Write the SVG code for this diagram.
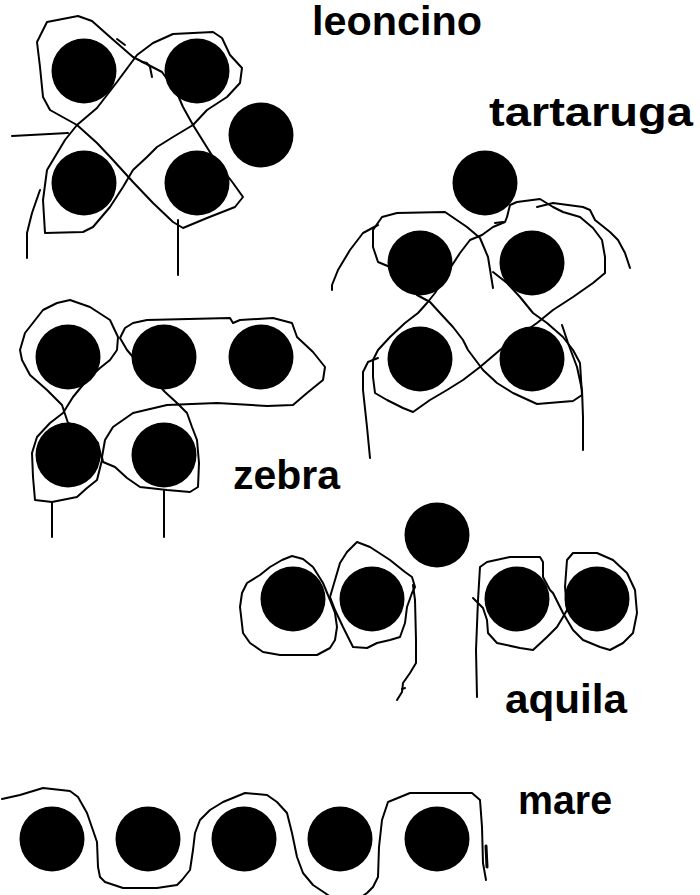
<svg xmlns="http://www.w3.org/2000/svg" width="700" height="895" viewBox="0 0 700 895">
<style>
.dot{fill:#000}
.ln{fill:none;stroke:#000;stroke-width:2;stroke-linejoin:round;stroke-linecap:round}
.lbl{font-family:"Liberation Sans",Arial,sans-serif;font-weight:bold;font-size:40px;fill:#000}
</style>
<rect width="700" height="895" fill="#fff"/>
<g id="leoncino">
  <g id="leoncino-lines">
    <polyline class="ln" points="37,42 47,22 78,16 92,21 110,37 133,57 162,72 177,93 183,107 193,125 213,157 233,183 243,197 235,207 207,218 183,228 173,222 153,203 133,182 113,160 97,143 77,125 50,110 43,97 40,67 37,42"/>
    <polyline class="ln" points="117,82 137,55 153,43 173,34 213,32 222,38 230,55 242,68 240,83 227,97 207,110 193,125 173,137 157,147 147,157 133,170 123,187 110,207 93,227 83,232 45,233 43,200 47,170 65,140 77,125 97,108 117,82"/>
    <polyline class="ln" points="12,136 68,133"/>
    <polyline class="ln" points="40,190 32,213 27,233 27,258"/>
    <polyline class="ln" points="178,220 178,275"/>
    <polyline class="ln" points="117,39 121,42 125,45"/>
    <polyline class="ln" points="142,62 147,63 150,67 152,77"/>
  </g>
  <circle class="dot" cx="84" cy="71" r="32.5"/>
  <circle class="dot" cx="197" cy="71" r="32.5"/>
  <circle class="dot" cx="84" cy="183" r="32.5"/>
  <circle class="dot" cx="197" cy="183" r="32.5"/>
  <circle class="dot" cx="261" cy="135" r="32.5"/>
  <text class="lbl" x="312" y="35" textLength="170" lengthAdjust="spacingAndGlyphs">leoncino</text>
</g>
<g id="tartaruga">
  <g id="tartaruga-lines">
    <polyline class="ln" points="493,288 488,257 480,238 467,227 445,212 397,213 382,217 373,230 373,247 378,262 390,267 417,295 430,302 440,313 453,327 463,340 468,350 483,370 497,383 513,393 537,404 573,401 582,395 580,363 573,350 563,337 547,323 533,313 520,297 507,283 493,272"/>
    <polyline class="ln" points="507,217 510,205 517,202 540,199 553,207 563,212 580,217 593,228 602,240 605,257 605,273 593,283 573,297 553,310 537,323 517,337 500,350 480,367 463,380 447,390 430,400 413,412 403,408 387,400 375,393 373,377 373,360 378,350 390,337 405,323 418,313 427,303 435,293 447,273 460,253 470,240 482,235 493,227 505,222 507,217"/>
    <polyline class="ln" points="495,223 503,222"/>
    <polyline class="ln" points="378,225 363,233 350,250 338,270 332,285 332,290"/>
    <polyline class="ln" points="537,207 553,203 583,207 590,210 595,220 610,232 618,240 625,253 630,268"/>
    <polyline class="ln" points="378,358 368,362 363,372 363,390 367,427 370,458"/>
    <polyline class="ln" points="562,325 568,343 577,367 582,390 583,417 583,450"/>
  </g>
  <circle class="dot" cx="485" cy="183" r="32.5"/>
  <circle class="dot" cx="420" cy="263" r="32.5"/>
  <circle class="dot" cx="532" cy="263" r="32.5"/>
  <circle class="dot" cx="420" cy="359" r="32.5"/>
  <circle class="dot" cx="532" cy="359" r="32.5"/>
  <text class="lbl" x="489" y="126" textLength="204" lengthAdjust="spacingAndGlyphs">tartaruga</text>
</g>
<g id="zebra">
  <g id="zebra-lines">
    <polyline class="ln" points="20,350 25,333 43,310 57,303 70,300 90,307 110,320 118,337 117,350 110,360 100,368 87,380 73,397 63,413 50,423 37,437 32,453 33,477 35,500 52,502 77,497 87,488 97,480 102,460 98,443 87,430 68,423 62,405 47,390 30,375 22,360 20,350"/>
    <polyline class="ln" points="120,338 125,328 133,323 147,320 230,318 233,323 240,320 273,318 292,323 297,337 313,352 325,367 323,380 307,393 293,405 267,406 217,403 167,405 133,413 113,427 105,440 102,457 103,462 115,467 127,478 140,487 167,490 190,492 198,487 199,463 197,440 192,427 187,413 177,403 165,392 133,357 127,350 120,338"/>
    <polyline class="ln" points="52,503 52,537"/>
    <polyline class="ln" points="164,490 164,537"/>
  </g>
  <circle class="dot" cx="68" cy="357" r="32.5"/>
  <circle class="dot" cx="164" cy="357" r="32.5"/>
  <circle class="dot" cx="261" cy="357" r="32.5"/>
  <circle class="dot" cx="68" cy="455" r="32.5"/>
  <circle class="dot" cx="164" cy="455" r="32.5"/>
  <text class="lbl" x="233" y="489" textLength="107" lengthAdjust="spacingAndGlyphs">zebra</text>
</g>
<g id="aquila">
  <g id="aquila-lines">
    <polyline class="ln" points="240,607 242,593 247,583 260,575 270,567 282,560 292,556 303,559 313,567 323,583 330,600 335,613 337,627 335,640 330,648 317,655 280,655 263,652 250,643 243,633 240,607"/>
    <polyline class="ln" points="335,580 340,563 347,552 357,542 370,547 390,560 405,572 412,577 415,587 412,593 407,607 405,623 400,637 390,640 377,643 367,648 353,647 348,637 343,627 335,610 330,597 335,580"/>
    <polyline class="ln" points="413,585 415,600 416,640 416,663 410,673 403,683 402,692 397,700"/>
    <polyline class="ln" points="402,689 405,688"/>
    <polyline class="ln" points="477,697 476,650 478,600 480,567 487,562 510,557 540,557 543,562 543,577 550,590 553,593 563,613 573,630 583,640 600,647 610,650 623,643 633,633 637,613 635,590 627,573 613,560 597,553 573,553 567,560 565,587 567,610 563,617 557,627 547,637 533,650 520,648 497,643 488,633 487,620 483,608 473,598"/>
  </g>
  <circle class="dot" cx="437" cy="535" r="32.5"/>
  <circle class="dot" cx="293" cy="599" r="32.5"/>
  <circle class="dot" cx="372" cy="599" r="32.5"/>
  <circle class="dot" cx="517" cy="599" r="32.5"/>
  <circle class="dot" cx="597" cy="599" r="32.5"/>
  <text class="lbl" x="505" y="713" textLength="122" lengthAdjust="spacingAndGlyphs">aquila</text>
</g>
<g id="mare">
  <g id="mare-lines">
    <polyline class="ln" points="2,799 20,795 43,788 70,791 78,797 87,813 97,842 98,867 100,877 105,882 123,888 157,888 177,885 182,880 190,870 193,850 195,833 200,820 210,810 223,802 245,793 267,795 277,802 287,813 292,833 297,857 303,873 313,885 325,893 332,898"/>
    <polyline class="ln" points="360,898 367,893 373,887 378,877 379,847 382,820 388,802 410,793 472,793 480,800 482,827 483,863 486,880"/>
    <polyline class="ln" points="486,846 487,867" style="stroke-width:3"/>
  </g>
  <circle class="dot" cx="52" cy="839" r="32.5"/>
  <circle class="dot" cx="148" cy="839" r="32.5"/>
  <circle class="dot" cx="244" cy="839" r="32.5"/>
  <circle class="dot" cx="340" cy="839" r="32.5"/>
  <circle class="dot" cx="437" cy="839" r="32.5"/>
  <text class="lbl" x="518" y="814" textLength="94" lengthAdjust="spacingAndGlyphs">mare</text>
</g>
</svg>
